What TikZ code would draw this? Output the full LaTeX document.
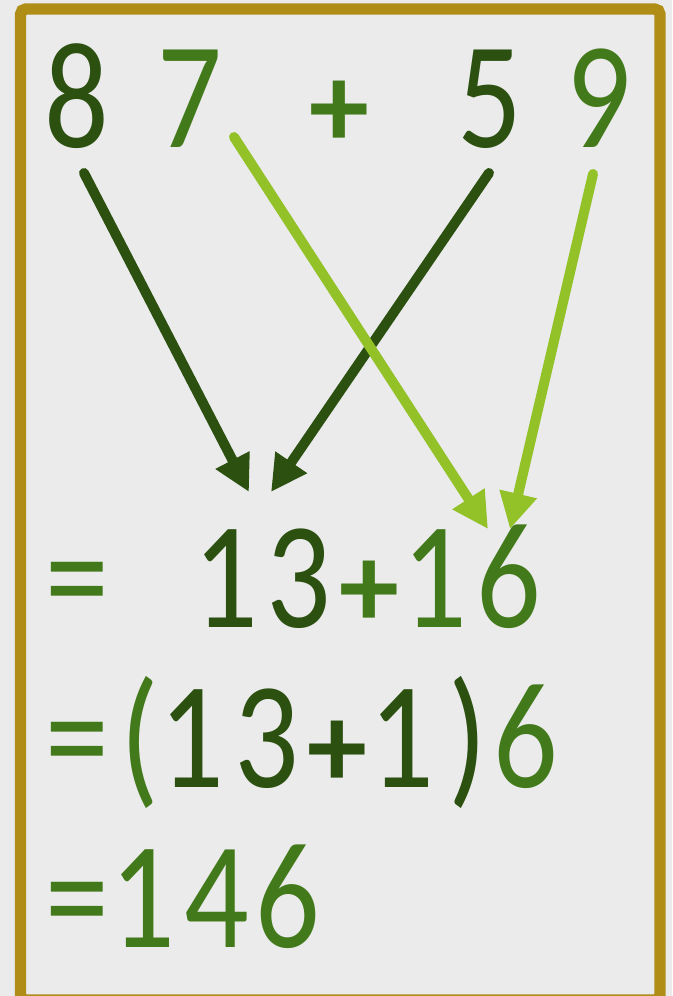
\documentclass[tikz,border=0pt]{standalone}
\usepackage{fontspec}
\usepackage{graphicx}
\setmainfont{Carlito}
\usetikzlibrary{arrows.meta}
\definecolor{bg}{HTML}{EBEBEB}
\definecolor{gold}{HTML}{B08D17}
\definecolor{greenD}{HTML}{2B5010}
\definecolor{greenM}{HTML}{427A1B}
\definecolor{greenL}{HTML}{92C128}
\newcommand{\nar}[1]{\scalebox{0.84}[1]{#1}}
\tikzset{
  frame/.style={
    draw=gold,
    line width=8.5pt,
    rounded corners=4pt
  },
  glyph/.style={
    font=\fontsize{114}{120}\selectfont,
    anchor=base,
    inner sep=0pt
  },
  darkglyph/.style={
    glyph,
    text=greenD
  },
  midglyph/.style={
    glyph,
    text=greenM
  },
  plusglyph/.style={
    glyph,
    font=\bfseries\fontsize{90}{90}\selectfont
  },
  carry/.style={
    line width=7.5pt,
    line cap=round,
    -{Triangle[length=27pt,width=27pt]}
  }
}

\begin{document}
\begin{tikzpicture}[x=0.75pt,y=-0.75pt]

% Background
\fill[bg] (0,0) rectangle (672,996);
\useasboundingbox (0,0) rectangle (672,996);
\draw[frame] (20.5,9) rectangle (660,1000);

% ---------- Top row ----------
\node[darkglyph] (n8) at (77,147) {\nar{8}};
\node[midglyph]  (n7) at (190,147) {\nar{7}};
\node[plusglyph,text=greenM] (plus) at (339,147) {+};
\node[darkglyph] (n5) at (490,147) {\nar{5}};
\node[midglyph]  (n9) at (599,147) {\nar{9}};

% ---------- Second row ----------
\node[midglyph]  (eqA) at (77,627) {\nar{=}};
\node[darkglyph] (oneA) at (226,627) {\nar{1}};
\node[darkglyph] (threeA) at (299,627) {\nar{3}};
\node[plusglyph,text=greenM] (plusA) at (369,627) {+};
\node[midglyph]  (oneA2) at (435,627) {\nar{1}};
\node[midglyph]  (sixA) at (509,627) {\nar{6}};

% ---------- Third row ----------
\node[midglyph]  (eqB) at (77,787) {\nar{=}};
\node[midglyph]  (parL) at (140,787) {\nar{(}};
\node[darkglyph] (oneB) at (192,787) {\nar{1}};
\node[darkglyph] (threeB) at (267,787) {\nar{3}};
\node[plusglyph,text=greenD] (plusB) at (337,787) {+};
\node[darkglyph] (oneB2) at (402,787) {\nar{1}};
\node[darkglyph] (parR) at (468,787) {\nar{)}};
\node[midglyph]  (sixB) at (526,787) {\nar{6}};

% ---------- Last row ----------
\node[midglyph]  (eqC) at (77,947) {\nar{=}};
\node[midglyph]  (oneC) at (143,947) {\nar{1}};
\node[midglyph]  (fourC) at (217,947) {\nar{4}};
\node[midglyph]  (sixC) at (288,947) {\nar{6}};

% ---------- Arrows ----------
\coordinate (s8) at (84,173);
\coordinate (s5) at (489,173);
\coordinate (s7) at (234,137);
\coordinate (s9) at (593,174);
\coordinate (t8) at (249,492);
\coordinate (t5) at (271,492);
\coordinate (t7) at (488,529);
\coordinate (t9) at (510,529);

\draw[carry,greenD] (s8) -- (t8);
\draw[carry,greenD] (s5) -- (t5);
\draw[carry,greenL] (s7) -- (t7);
\draw[carry,greenL] (s9) -- (t9);

\end{tikzpicture}
\end{document}
